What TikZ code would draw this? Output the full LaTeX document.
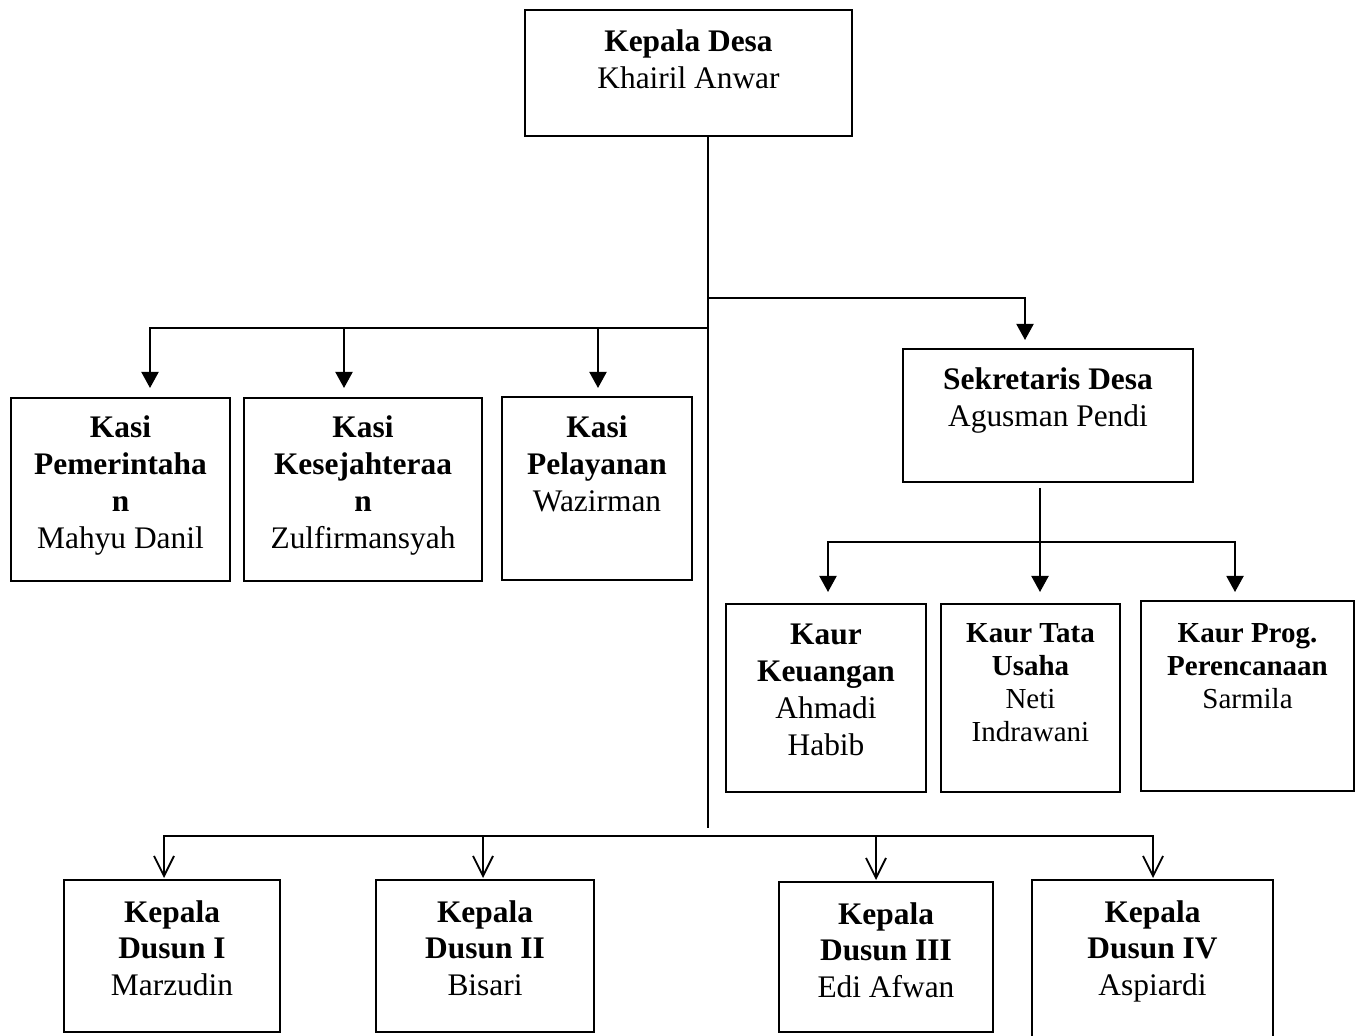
\documentclass[tikz,border=0pt]{standalone}
\usepackage{fontspec}
\setmainfont{Liberation Serif}
\usetikzlibrary{arrows.meta}
\newlength\pxu
\setlength\pxu{0.5pt}
\tikzset{
  box/.style={draw=black, line width=0.65pt, inner sep=0pt},
  txt/.style={anchor=base, inner sep=0pt, font=\fontsize{15.7}{18.4}\selectfont},
  txts/.style={anchor=base, inner sep=0pt, font=\fontsize{14.5}{16.5}\selectfont},
  conn/.style={line width=1pt},
  arrF/.style={line width=1pt, -{Triangle[width=8.5pt,length=8pt]}},
  arrO/.style={line width=0.9pt, -{Straight Barb[width=10pt,length=10pt,line width=0.9pt]}},
}
\begin{document}
\begin{tikzpicture}[x=0.5pt, y=-0.5pt]
\useasboundingbox (0,0) rectangle (1360,1036);
% boxes
\node[box, minimum width=327\pxu, minimum height=126\pxu] (kd) at (688.5,73) {};
\node[box, minimum width=290\pxu, minimum height=133\pxu] (sd) at (1048,415.5) {};
\node[box, minimum width=219\pxu, minimum height=183\pxu] (kp) at (120.5,489.5) {};
\node[box, minimum width=238\pxu, minimum height=183\pxu] (ks) at (363,489.5) {};
\node[box, minimum width=190\pxu, minimum height=183\pxu] (kl) at (597,488.5) {};
\node[box, minimum width=200\pxu, minimum height=188\pxu] (kk) at (826,698) {};
\node[box, minimum width=179\pxu, minimum height=188\pxu] (kt) at (1030.5,698) {};
\node[box, minimum width=213\pxu, minimum height=190\pxu] (kg) at (1247.5,696) {};
\node[box, minimum width=216\pxu, minimum height=152\pxu] (d1) at (172,956) {};
\node[box, minimum width=218\pxu, minimum height=152\pxu] (d2) at (485,956) {};
\node[box, minimum width=214\pxu, minimum height=150\pxu] (d3) at (886,957) {};
\node[box, minimum width=241\pxu, minimum height=158\pxu] (d4) at (1152.5,959) {};
% texts
\node[txt] (kdT) at (688.5,52) {\parbox[t]{320\pxu}{\centering\textbf{Kepala Desa}\\Khairil Anwar}};
\node[txt] (sdT) at (1048,390) {\parbox[t]{285\pxu}{\centering\textbf{Sekretaris Desa}\\Agusman Pendi}};
\node[txt] (kpT) at (120.5,438) {\parbox[t]{215\pxu}{\centering\textbf{Kasi}\\\textbf{Pemerintaha}\\\textbf{n}\\Mahyu Danil}};
\node[txt] (ksT) at (363,438) {\parbox[t]{235\pxu}{\centering\textbf{Kasi}\\\textbf{Kesejahteraa}\\\textbf{n}\\Zulfirmansyah}};
\node[txt] (klT) at (597,438) {\parbox[t]{186\pxu}{\centering\textbf{Kasi}\\\textbf{Pelayanan}\\Wazirman}};
\node[txt] (kkT) at (826,645) {\parbox[t]{196\pxu}{\centering\textbf{Kaur}\\\textbf{Keuangan}\\Ahmadi\\Habib}};
\node[txts] (ktT) at (1030.5,643) {\parbox[t]{176\pxu}{\centering\textbf{Kaur Tata}\\\textbf{Usaha}\\Neti\\Indrawani}};
\node[txts] (kgT) at (1247.5,643) {\parbox[t]{210\pxu}{\centering\textbf{Kaur Prog.}\\\textbf{Perencanaan}\\Sarmila}};
\node[txt] (d1T) at (172,922) {\parbox[t]{212\pxu}{\centering\textbf{Kepala}\\\textbf{Dusun I}\\Marzudin}};
\node[txt] (d2T) at (485,922) {\parbox[t]{214\pxu}{\centering\textbf{Kepala}\\\textbf{Dusun II}\\Bisari}};
\node[txt] (d3T) at (886,924) {\parbox[t]{210\pxu}{\centering\textbf{Kepala}\\\textbf{Dusun III}\\Edi Afwan}};
\node[txt] (d4T) at (1152.5,922) {\parbox[t]{236\pxu}{\centering\textbf{Kepala}\\\textbf{Dusun IV}\\Aspiardi}};
% connector points
\coordinate (tEnd) at (708,828);
\coordinate (jS) at (708,298);
\coordinate (jK) at (708,328);
\coordinate (sdIn) at (1025,340);
\coordinate (kpIn) at (150,388);
\coordinate (ksIn) at (344,388);
\coordinate (klIn) at (598,388);
\coordinate (sdOut) at (1040,488);
\coordinate (jD) at (1040,542);
\coordinate (kkIn) at (828,592);
\coordinate (ktIn) at (1040,592);
\coordinate (kgIn) at (1235,592);
\coordinate (jB) at (708,836);
\coordinate (d1In) at (164,878);
\coordinate (d2In) at (483,878);
\coordinate (d3In) at (876,880);
\coordinate (d4In) at (1153,878);
% connectors
\draw[conn] (kd.south -| tEnd) -- (tEnd);
\draw[arrF] (jS) -| (sdIn);
\draw[arrF] (jK) -| (kpIn);
\draw[arrF] (jK -| ksIn) -- (ksIn);
\draw[arrF] (jK -| klIn) -- (klIn);
\draw[arrF] (sdOut) -- (ktIn);
\draw[arrF] (jD) -| (kkIn);
\draw[arrF] (jD) -| (kgIn);
\draw[arrO] (jB) -| (d1In);
\draw[arrO] (jB -| d2In) -- (d2In);
\draw[arrO] (jB) -| (d4In);
\draw[arrO] (jB -| d3In) -- (d3In);
\end{tikzpicture}
\end{document}
